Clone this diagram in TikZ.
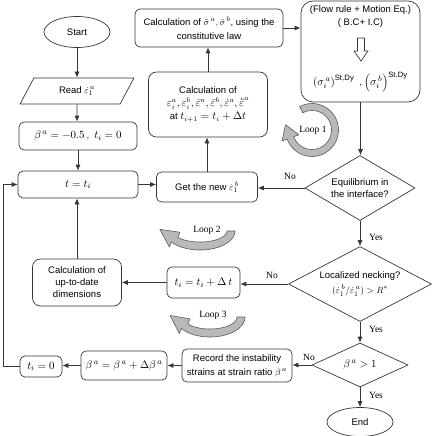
\documentclass[tikz,border=0pt]{standalone}
\usepackage{fontspec}
\setmainfont{Liberation Sans}
\newfontfamily\tnr{Liberation Serif}
\usetikzlibrary{shapes.geometric,arrows.meta}
\definecolor{linec}{RGB}{55,55,55}
\definecolor{loopfill}{RGB}{185,185,185}
\definecolor{loopline}{RGB}{90,90,90}
\newcommand{\fatloop}[9]{%
 \pgfmathsetmacro\FLmx{#1+#3*cos(#6)}%
 \pgfmathsetmacro\FLmy{#2+#4*sin(#6)}%
 \pgfmathsetmacro\FLtx{-#3*sin(#6)}%
 \pgfmathsetmacro\FLty{#4*cos(#6)}%
 \pgfmathsetmacro\FLtn{sqrt((\FLtx)^2+(\FLty)^2)}%
 \pgfmathsetmacro\FLnx{#4*cos(#6)}%
 \pgfmathsetmacro\FLny{#3*sin(#6)}%
 \pgfmathsetmacro\FLnn{sqrt((\FLnx)^2+(\FLny)^2)}%
 \filldraw[loopst] plot[domain=#5:#6,samples=40] ({#1+(#3+#7)*cos(\x)},{#2+(#4+#7)*sin(\x)})
   -- ({\FLmx+#8*\FLnx/\FLnn},{\FLmy+#8*\FLny/\FLnn})
   -- ({\FLmx+#9*\FLtx/\FLtn},{\FLmy+#9*\FLty/\FLtn})
   -- ({\FLmx-#8*\FLnx/\FLnn},{\FLmy-#8*\FLny/\FLnn})
   -- plot[domain=#6:#5,samples=40] ({#1+(#3-#7)*cos(\x)},{#2+(#4-#7)*sin(\x)})
   -- cycle;}
\begin{document}
\begin{tikzpicture}[x=1pt,y=-1pt,font=\fontsize{9.5}{12}\selectfont,
  box/.style={draw=linec, line width=0.7pt, rounded corners=5pt, align=center, inner sep=1pt},
  term/.style={ellipse, draw=linec, line width=0.7pt, inner sep=0pt},
  dia/.style={diamond, draw=linec, line width=0.7pt, inner sep=0pt, align=center},
  arr/.style={draw=linec, line width=0.7pt, -{Latex[length=6pt,width=5pt]}},
  lbl/.style={font=\tnr\fontsize{9.5}{11}\selectfont, inner sep=0pt},
  mth/.style={font=\fontsize{11}{13}\selectfont},
  loopst/.style={fill=loopfill, draw=loopline, line width=0.6pt, line join=round}]
\useasboundingbox (0,0) rectangle (431,436);

% left column
\node[term, minimum width=66, minimum height=31] (start) at (77,32) {Start};
\node[trapezium, trapezium left angle=58, trapezium right angle=122, trapezium stretches=true,
      draw=linec, line width=0.7pt, inner sep=0pt, minimum width=114, minimum height=26] (read) at (77,91) {Read $\dot{\varepsilon}_1^{\,a}$};
\node[box, mth, minimum width=118, minimum height=28] (beta0) at (78,136) {$\beta^{\,a}=-0.5\,,\;t_i=0$};
\node[box, mth, minimum width=120, minimum height=27] (tt) at (78,184.5) {$t=t_i$};
\node[box, rounded corners=8pt, minimum width=89, minimum height=47] (upd) at (77,282.5) {Calculation of\\up-to-date\\dimensions};
\node[box, mth, minimum width=42, minimum height=21] (t0) at (41,366.5) {$t_i=0$};
\coordinate (lft) at (3,366.5);

% middle column
\node[box, minimum width=148, minimum height=38, font=\fontsize{9.5}{14}\selectfont] (sig) at (209,28) {Calculation of $\bar{\sigma}^{\,a},\bar{\sigma}^{\,b}$, using the\\constitutive law};
\node[box, rounded corners=8pt, minimum width=119, minimum height=65] (calcn) at (208,104.5) {Calculation of\\[1pt]{\fontsize{10.5}{12}\selectfont$\varepsilon_i^{a},\varepsilon_i^{b},\bar{\varepsilon}^{a},\bar{\varepsilon}^{b},\dot{\varepsilon}^{a},\dot{\bar{\varepsilon}}^{a}$}\\[1pt]at {\fontsize{10.5}{12}\selectfont$t_{i+1}=t_i+\Delta t$}};
\node[box, minimum width=101, minimum height=30] (getnew) at (207,187) {Get the new $\dot{\varepsilon}_1^{\,b}$};
\node[box, mth, minimum width=73, minimum height=31] (tinc) at (203.5,282.5) {$t_i=t_i+\Delta\,t$};
\node[box, minimum width=110, minimum height=33, font=\fontsize{9.5}{14}\selectfont] (rec) at (237,365.5) {Record the instability\\strains at strain ratio $\beta^{\,a}$};
\node[box, mth, minimum width=86, minimum height=29] (binc) at (124,365.5) {$\beta^{\,a}=\beta^{\,a}+\Delta\beta^{\,a}$};

% right column
\node[box, rounded corners=12pt, minimum width=119, minimum height=101] (flow) at (360.5,51.5) {};
\node[inner sep=0pt] (flow1) at (360.5,10) {(Flow rule + Motion Eq.)};
\node[inner sep=0pt] (flow2) at (360.5,23) {( B.C+ I.C)};
\node[inner sep=0pt, font=\fontsize{11}{13}\selectfont] (flow3) at (360.5,82) {$\left(\sigma_i^{\,a}\right)^{\mathrm{St,Dy}}\ ,\left(\sigma_i^{\,b}\right)^{\mathrm{St,Dy}}$};
\draw[draw=linec, line width=0.7pt, fill=white] (357.5,38) -- (364.5,38) -- (364.5,51) -- (368,51) -- (361,61) -- (354,51) -- (357.5,51) -- cycle;
\node[dia, minimum width=110, minimum height=65, shape aspect=1.7] (eq) at (360,188) {Equilibrium in\\the interface?};
\node[dia, minimum width=143, minimum height=75, shape aspect=1.9] (neck) at (360,284) {Localized necking?\\[3pt]$(\dot{\varepsilon}_1^{\,b}/\dot{\varepsilon}_1^{\,a})>R^{*}$};
\node[dia, mth, minimum width=96, minimum height=44, shape aspect=2.2] (bgt) at (360,365) {$\beta^{\,a}>1$};
\node[term, minimum width=66, minimum height=29] (endn) at (360,422) {End};

% connectors
\draw[arr] (start) -- (read);
\draw[arr] (read) -- (beta0.north -| read.south);
\draw[arr] (beta0) -- (tt);
\draw[arr] (tt.east) -- (tt.east -| getnew.west);
\draw[arr] (getnew.north) -- (getnew.north |- calcn.south);
\draw[arr] (calcn.north) -- (calcn.north |- sig.south);
\draw[arr] (sig.east) -- (sig.east -| flow.west);
\draw[arr] (flow.south) -- (flow.south |- eq.north);
\draw[arr] (eq.west) -- (eq.west -| getnew.east);
\draw[arr] (eq.south) -- (neck.north);
\draw[arr] (neck.west) -- (neck.west -| tinc.east);
\draw[arr] (tinc.west) -- (tinc.west -| upd.east);
\draw[arr] (upd.north) -- (upd.north |- tt.south);
\draw[arr] (neck.south) -- (bgt.north);
\draw[arr] (bgt.west) -- (bgt.west -| rec.east);
\draw[arr] (rec.west) -- (rec.west -| binc.east);
\draw[arr] (binc.west) -- (binc.west -| t0.east);
\draw[arr] (t0.west) -- (lft) |- (tt.west);
\draw[arr] (bgt.south) -- (endn.north);

% labels
\node[lbl] (no1) at (290,176) {No};
\node[lbl] (yes1) at (376,237) {Yes};
\node[lbl] (no2) at (272,275) {No};
\node[lbl] (yes2) at (376,329) {Yes};
\node[lbl] (no3) at (309,357) {No};
\node[lbl] (yes3) at (376,395) {Yes};

% loops
\fatloop{312}{130}{23}{23}{-118}{160}{3.5}{9}{14}
\fatloop{200}{231}{31}{15}{0}{145}{4}{9}{18}
\fatloop{210}{317}{31}{16}{0}{145}{4}{9}{18}
\node[lbl] (loop1) at (313,130) {Loop 1};
\node[lbl] (loop2) at (207,230) {Loop 2};
\node[lbl] (loop3) at (213,315) {Loop 3};
\end{tikzpicture}
\end{document}
